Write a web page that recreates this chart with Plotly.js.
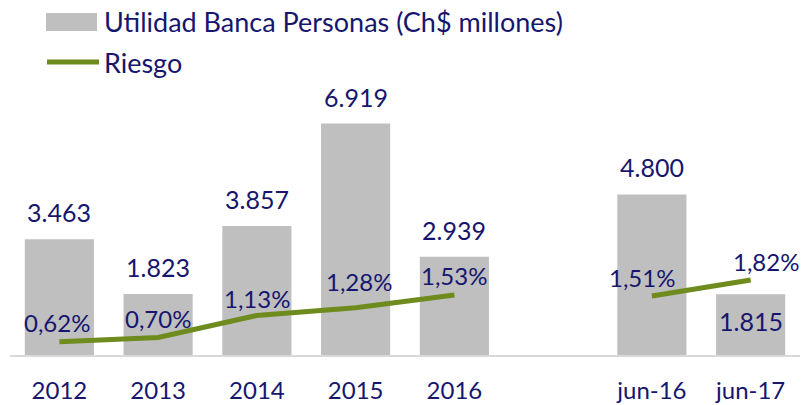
<!DOCTYPE html>
<html>
<head>
<meta charset="utf-8">
<script src="https://cdn.plot.ly/plotly-3.0.1.min.js"></script>
<style>html,body{margin:0;padding:0;background:#fff;}#chart{width:805px;height:405px;}</style>
</head>
<body>
<div id="chart"></div>
<script>
// ---- data ----
const categories = ['2012', '2013', '2014', '2015', '2016', '\u00a0', 'jun-16', 'jun-17'];
const utilidad = [3463, 1823, 3857, 6919, 2939, null, 4800, 1815];
const riesgo = [0.62, 0.70, 1.13, 1.28, 1.53, null, 1.51, 1.82];
const barName = 'Utilidad Banca Personas (Ch$ millones)';
const lineName = 'Riesgo';

// ---- style ----
const W = 805, H = 405;
const M = {l: 10, r: 5, t: 80, b: 50};
const navy = '#16166E';
const gray = '#BFBFBF';
const green = '#6E8B1E';
const FONT = 'Lato, "Open Sans", sans-serif';

const plotW = W - M.l - M.r, plotH = H - M.t - M.b;
const px2x = px => (px - M.l) / plotW;
const py2y = py => (H - M.b - py) / plotH;

const traces = [
  {
    type: 'bar', x: categories, y: utilidad, name: barName,
    marker: {color: gray}, hoverinfo: 'skip', showlegend: false
  },
  {
    type: 'scatter', mode: 'lines', x: categories, y: riesgo, name: lineName,
    yaxis: 'y2', line: {color: green, width: 5}, connectgaps: false,
    hoverinfo: 'skip', showlegend: false
  }
];

function fmtInt(v) {
  return String(v).replace(/\B(?=(\d{3})+(?!\d))/g, '.');
}
function fmtPct(v) {
  return v.toFixed(2).replace('.', ',') + '%';
}

const annotations = [];
categories.forEach((c, i) => {
  const v = utilidad[i];
  if (v == null) return;
  const inside = (c === 'jun-17');
  annotations.push({
    x: i, y: v, xref: 'x', yref: 'y', text: fmtInt(v), showarrow: false,
    yanchor: 'middle', yshift: inside ? -27 : 27,
    font: {family: FONT, size: 25, color: navy}
  });
});
const lineXShift = {'jun-16': -10, 'jun-17': 15, '2015': 3, '2012': -2};
const lineYShift = {'2015': 26, '2014': 17};
categories.forEach((c, i) => {
  const v = riesgo[i];
  if (v == null) return;
  annotations.push({
    x: i, y: v, xref: 'x', yref: 'y2', text: fmtPct(v), showarrow: false,
    yanchor: 'middle', yshift: lineYShift[c] || 19, xshift: lineXShift[c] || 0,
    font: {family: FONT, size: 24, color: navy}
  });
});
// custom legend text
annotations.push({
  xref: 'paper', yref: 'paper', x: px2x(102), y: py2y(22), xanchor: 'left', yanchor: 'middle',
  text: barName, showarrow: false, font: {family: FONT, size: 27, color: navy}
});
annotations.push({
  xref: 'paper', yref: 'paper', x: px2x(102), y: py2y(62), xanchor: 'left', yanchor: 'middle',
  text: lineName, showarrow: false, font: {family: FONT, size: 27, color: navy}
});

const shapes = [
  {type: 'rect', xref: 'paper', yref: 'paper', x0: px2x(46), x1: px2x(97), y0: py2y(31), y1: py2y(13),
   fillcolor: gray, line: {width: 0}},
  {type: 'line', xref: 'paper', yref: 'paper', x0: px2x(47), x1: px2x(99), y0: py2y(62), y1: py2y(62),
   line: {color: green, width: 5}}
];

const layout = {
  width: W, height: H,
  margin: M,
  paper_bgcolor: '#fff', plot_bgcolor: '#fff',
  separators: ',.',
  showlegend: false,
  bargap: 0.3,
  font: {family: FONT, color: navy, size: 22},
  xaxis: {
    type: 'category', categoryorder: 'array', categoryarray: categories,
    range: [-0.5, categories.length - 0.5],
    showline: true, linecolor: '#D9D9D9', linewidth: 2, showgrid: false, zeroline: false,
    ticks: '', tickfont: {family: FONT, size: 24, color: navy}, ticklabelstandoff: 13,
    fixedrange: true
  },
  yaxis: {range: [0, 8220], visible: false, showgrid: false, zeroline: false, fixedrange: true},
  yaxis2: {range: [0.36, 5.72], overlaying: 'y', visible: false, showgrid: false, zeroline: false, fixedrange: true},
  annotations: annotations,
  shapes: shapes
};

Plotly.newPlot('chart', traces, layout, {staticPlot: true, displayModeBar: false});
</script>
</body>
</html>
